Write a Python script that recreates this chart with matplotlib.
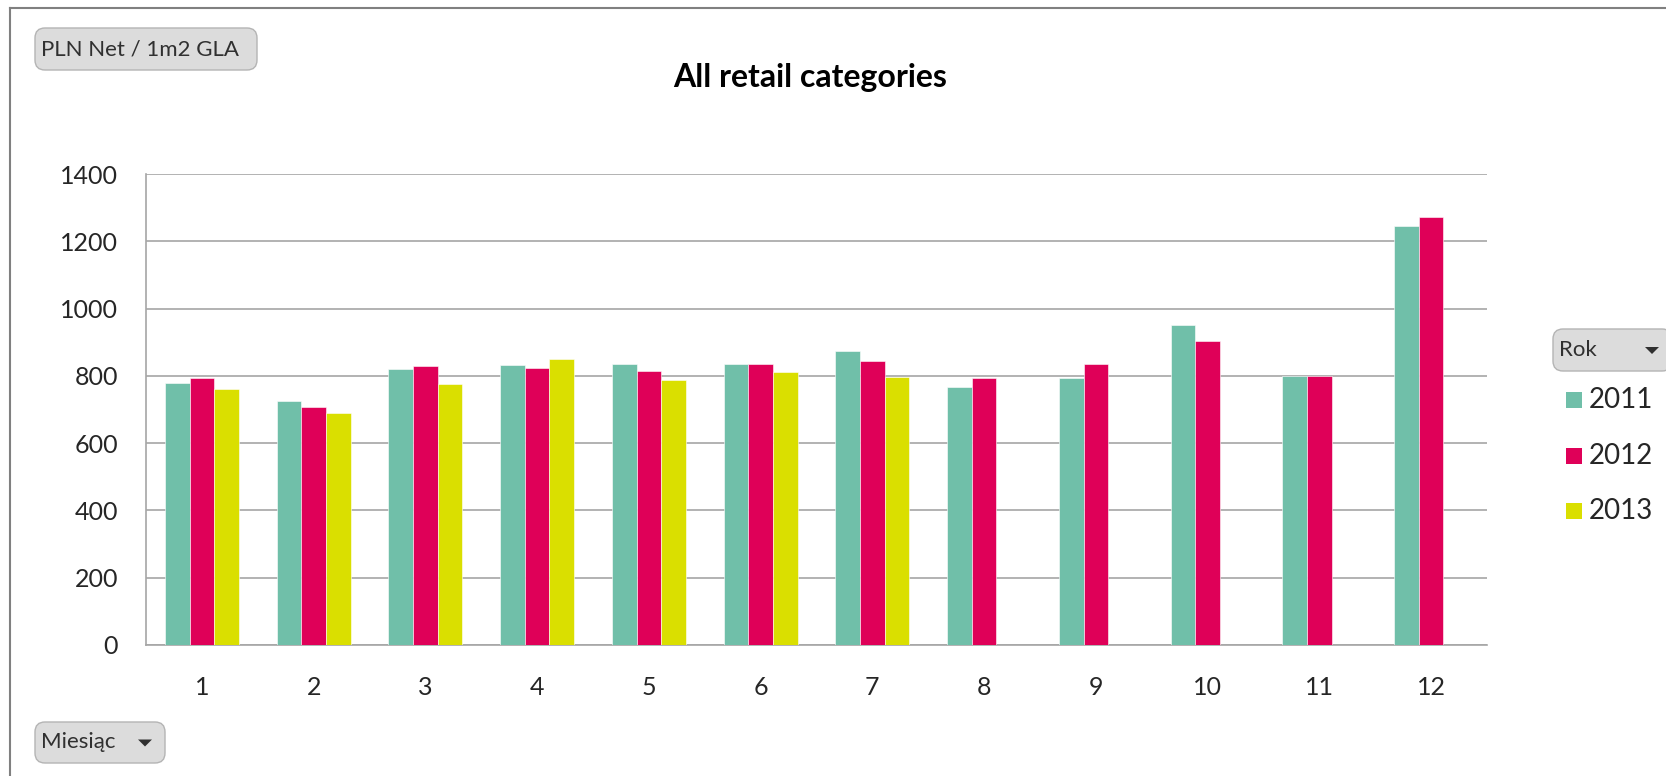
import matplotlib
matplotlib.use('Agg')
import matplotlib.pyplot as plt
import matplotlib.patches as mpatches
from matplotlib.lines import Line2D
import numpy as np

# ---------------- dane ----------------
miesiace = [1, 2, 3, 4, 5, 6, 7, 8, 9, 10, 11, 12]
lata = ['2011', '2012', '2013']
v2011 = [780, 725, 819, 832, 836, 836, 875, 766, 793, 952, 801, 1245]
v2012 = [793, 707, 828, 823, 814, 836, 845, 793, 836, 905, 801, 1271]
v2013 = [762, 689, 776, 850, 788, 810, 798, None, None, None, None, None]
wartosci = [v2011, v2012, v2013]
kolory = ['#70BFA9', '#DF0058', '#DADF00']
yticks = [0, 200, 400, 600, 800, 1000, 1200, 1400]

tytul = 'All retail categories'
przycisk_y = 'PLN Net / 1m2 GLA'
przycisk_x = 'Miesiąc'
przycisk_leg = 'Rok'

W, H = 1666, 776
plt.rcParams['font.family'] = ['Lato', 'DejaVu Sans']

fig = plt.figure(figsize=(W / 100, H / 100), dpi=100)
fig.patch.set_facecolor('white')


def px(x, y):
    # piksele -> współrzędne figury
    return x / W, 1 - y / H


ax = fig.add_axes([146 / W, 1 - 645 / H, (1487 - 146) / W, (645 - 174) / H])

szer = 0.221
x = np.arange(len(miesiace)) + 1
for i, (seria, kolor) in enumerate(zip(wartosci, kolory)):
    xs = [xx + (i - 1) * szer for xx, v in zip(x, seria) if v is not None]
    ys = [v for v in seria if v is not None]
    ax.bar(xs, ys, width=szer, color=kolor, edgecolor='white', linewidth=0.4, zorder=3)

ax.set_xlim(0.5, 12.5)
ax.set_ylim(0, 1400)
ax.set_yticks(yticks)
ax.set_xticks(x)
ax.set_xticklabels([str(m) for m in miesiace])
ax.grid(axis='y', color='#A6A6A6', linewidth=1.2, zorder=0)
for s in ['top', 'right']:
    ax.spines[s].set_visible(False)
for s in ['left', 'bottom']:
    ax.spines[s].set_color('#A6A6A6')
    ax.spines[s].set_linewidth(1.2)
ax.tick_params(axis='both', length=0, labelsize=18, colors='#262626')
ax.tick_params(axis='x', pad=22)
ax.tick_params(axis='y', pad=20)

# tytuł
fig.text(*px(810, 78), tytul, fontsize=23, fontweight='bold', ha='center', va='center', color='#000000')


# przyciski
def przycisk(x0, y0, x1, y1, tekst, strzalka):
    bx, by = px(x0, y1)
    bw, bh = (x1 - x0) / W, (y1 - y0) / H
    p = mpatches.FancyBboxPatch((bx, by), bw, bh, boxstyle='round,pad=0,rounding_size=0.006',
                                transform=fig.transFigure, facecolor='#DCDCDC', edgecolor='#B4B4B4',
                                linewidth=1.0, mutation_aspect=W / H)
    fig.patches.append(p)
    fig.text(*px(x0 + 6, (y0 + y1) / 2), tekst, fontsize=16, ha='left', va='center', color='#303030')
    if strzalka:
        cx, cy = x1 - 20, (y0 + y1) / 2
        tri = mpatches.Polygon([px(cx - 7, cy - 3), px(cx + 7, cy - 3), px(cx, cy + 4)],
                               closed=True, transform=fig.transFigure, facecolor='#303030', edgecolor='none')
        fig.patches.append(tri)


przycisk(35, 28, 257, 70, przycisk_y, False)
przycisk(35, 722, 165, 763, przycisk_x, True)
przycisk(1553, 329, 1672, 371, przycisk_leg, True)

# legenda
for i, (rok, kolor) in enumerate(zip(lata, kolory)):
    yc = 400 + i * 55.5
    r = mpatches.Rectangle(px(1566, yc + 8), 16 / W, 16 / H, transform=fig.transFigure,
                           facecolor=kolor, edgecolor='none')
    fig.patches.append(r)
    fig.text(*px(1589, yc), rok, fontsize=20, ha='left', va='center', color='#262626')

# ramka
fig.lines.append(Line2D([10 / W, 1], [1 - 8 / H, 1 - 8 / H], transform=fig.transFigure, color='#808080', linewidth=1.5))
fig.lines.append(Line2D([10 / W, 10 / W], [0, 1 - 8 / H], transform=fig.transFigure, color='#808080', linewidth=1.5))

fig.savefig('out.png', dpi=100)
